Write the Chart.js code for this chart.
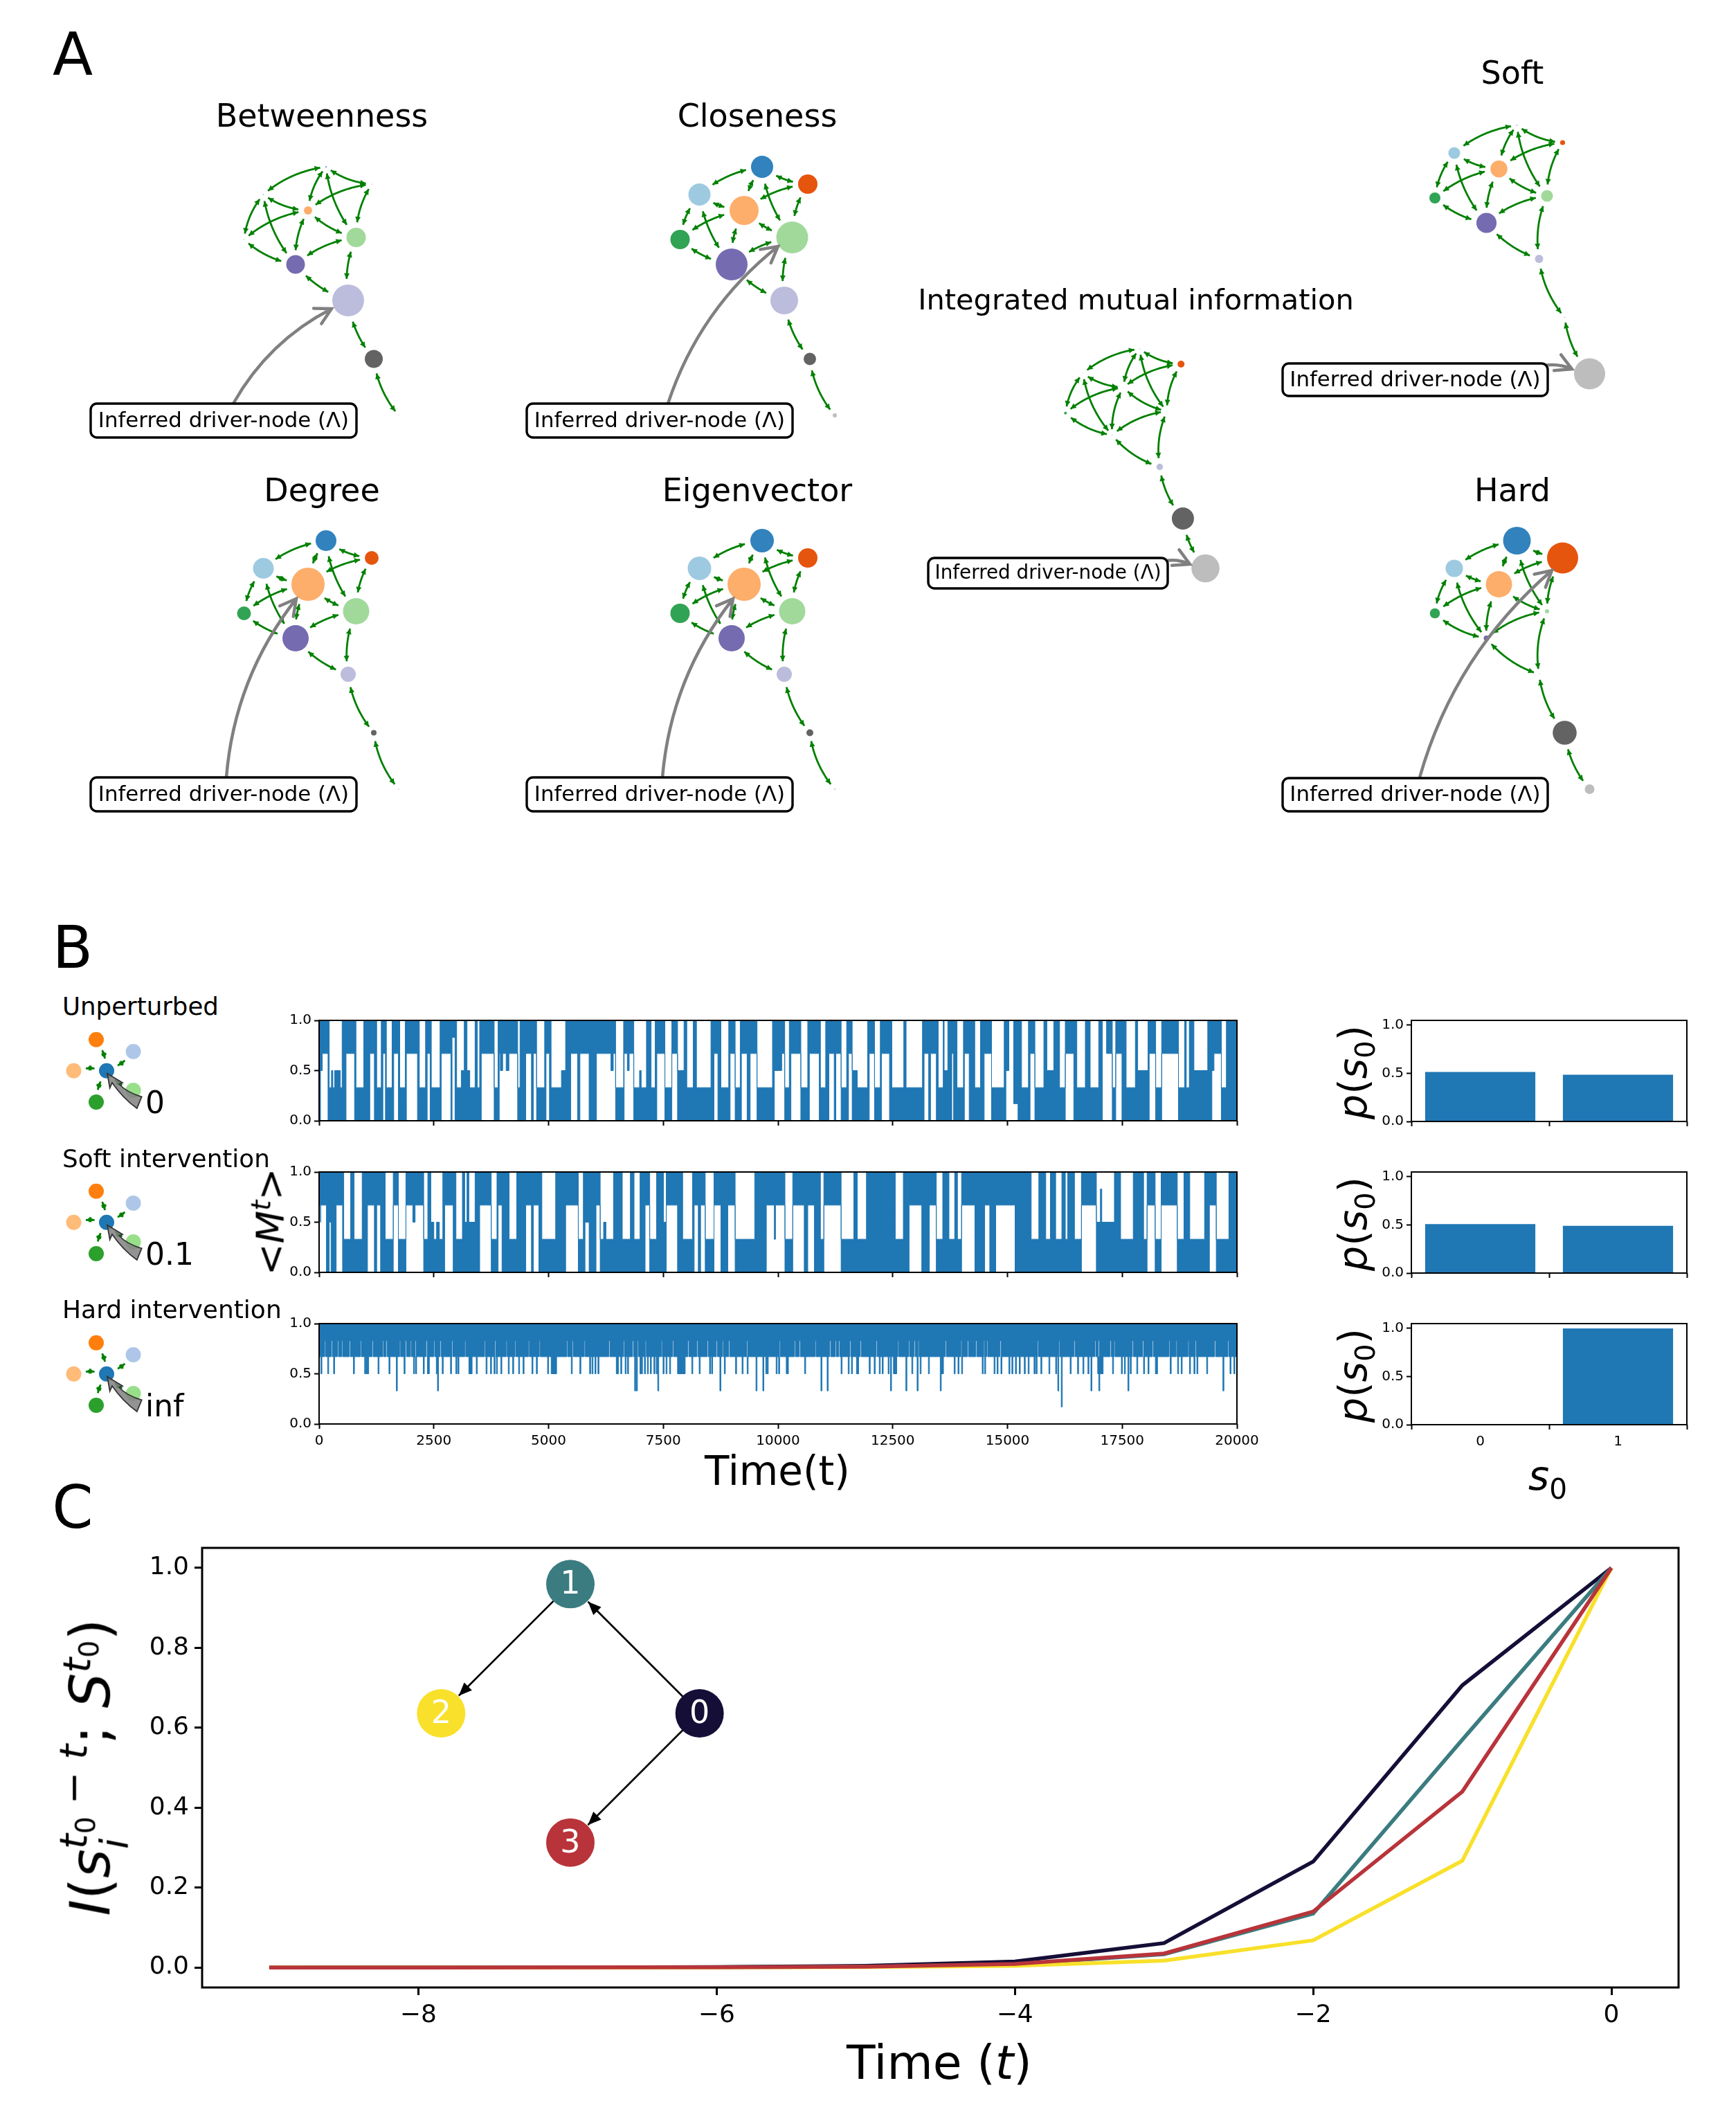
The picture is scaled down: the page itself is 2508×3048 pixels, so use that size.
<!DOCTYPE html>
<html>
<head>
<meta charset="utf-8">
<title>Driver node figure</title>
<script src="https://cdn.jsdelivr.net/npm/chart.js@4"></script>
<style>
    html, body { margin: 0; padding: 0; background: #fff; }
    #page { position: relative; width: 2508px; height: 3048px; overflow: hidden; font-family: "DejaVu Sans"; color: #000; }
    #page canvas { position: absolute; }
    .txt { position: absolute; white-space: nowrap; line-height: 1; }
    .txt sub, .txt sup { font-size: 70%; line-height: 0; }
    .stack { display: inline-flex; flex-direction: column; vertical-align: middle; font-size: 70%; line-height: 1.05; }
</style>
</head>
<body>
<div id="page"></div>
<script>
// panel A : network
var nodeColors = ["#3182bd", "#e6550d", "#9ecae1", "#fdae6b", "#a1d99b", "#31a354", "#756bb1", "#bcbddc", "#636363", "#bdbdbd"];
var layoutX = [471, 537, 380.5, 445, 514.5, 352.5, 427, 503, 540, 576];
var layoutY = [241, 266, 281, 304, 343, 346, 382, 434, 518.5, 600];
var edgeFrom = [0, 0, 0, 0, 1, 1, 2, 2, 2, 3, 3, 3, 4, 4, 5, 6, 7, 8];
var edgeTo = [1, 2, 3, 4, 3, 4, 3, 5, 6, 5, 6, 4, 6, 7, 6, 7, 8, 9];

var panelNames = ["Betweenness", "Closeness", "Degree", "Eigenvector", "Soft", "Hard", "Integrated mutual information"];
var panelSizes = [
    [1, 0.5, 1, 6, 14, 0.5, 13.5, 23, 13, 0.5],
    [16, 14, 16, 21, 23, 14, 23, 20, 9, 3],
    [15, 10, 15, 24, 19, 10, 19, 11, 4, 0.8],
    [17, 14, 17, 24, 19, 14, 19, 11, 5, 1],
    [0.7, 3.6, 8.6, 12.3, 8.6, 8, 14.6, 6, 0.5, 22.5],
    [20, 22.5, 12.6, 19, 3, 7.3, 4, 0.7, 17.3, 7],
    [0.5, 5, 0.5, 0.5, 0.5, 2, 0.5, 4.6, 16, 20.3]
];

// panel B : envelope of the traces, one [low, high] band per run
var F = [0, 1], B = [0, 0.33], T = [0.67, 1], n = [0, 0.5], u = [0, 0.83];
var m = [0.5, 1], h = [0.83, 1], s = [0.33, 1], k = [0.17, 1], W = [1, 1];

var unperturbedRuns = [
    [0, F], [30, m], [70, T], [195, F], [220, B], [270, n], [300, B], [340, n], [462, B], [502, F], [587, T], [773, F], [803, B], [974, F], [1105, T], [1205, F], [1255, B], [1355, F], [1390, T], [1446, F], [1466, B], [1591, F], [1626, T], [1727, F], [1757, B], [1877, F], [1902, T], [2144, F], [2184, B], [2320, F], [2355, T], [2420, F], [2445, B], [2636, F], [2661, T], [2872, F], [2897, h], [2962, F], [2997, B], [3098, n], [3163, F], [3223, n], [3283, B], [3399, F], [3449, B], [3499, F], [3534, T], [3815, B], [3900, F], [3925, T], [3950, m], [4000, T], [4076, m], [4136, T], [4327, B], [4378, F], [4503, T], [4628, F], [4668, T], [4739, B], [4915, F], [4945, T], [5020, F], [5055, B], [5281, n], [5372, F], [5482, T], [5633, F], [5683, T], [5884, F], [6044, T], [6360, m], [6410, T], [6461, B], [6636, F],
    [6647, T], [6717, m], [6757, T], [6857, B], [6983, n], [7018, B], [7134, F], [7234, B], [7324, F], [7359, T], [7535, B], [7686, T], [7811, n], [7952, F], [8012, B], [8153, F], [8223, B], [8539, F], [8604, T], [8690, F], [8755, B], [8926, F], [8956, T], [9066, B], [9177, F], [9202, T], [9327, F], [9393, T], [9543, B], [9880, F], [9920, m], [10080, T], [10146, B], [10246, F], [10281, T], [10497, B], [10648, F], [10683, T], [10899, F], [10924, B], [11039, F], [11109, T], [11225, F], [11260, T], [11375, B], [11496, F], [11536, T], [11616, n], [11727, B], [11953, F], [11988, T], [12103, B], [12229, F], [12254, T], [12430, F], [12480, B], [12741, F], [12791, B], [13148, F], [13183, T], [13283, F],
    [13323, T], [13450, F], [13490, B], [13600, F], [13620, n], [13700, F], [13786, T], [13826, F], [13900, B], [14041, F], [14061, T], [14166, F], [14287, B], [14412, F], [14492, T], [14653, B], [14929, F], [14965, m], [15030, W], [15135, k], [15230, F], [15306, B], [15457, F], [15492, T], [15597, B], [15793, F], [15858, n], [16009, F], [16135, B], [16260, T], [16446, F], [16511, B], [16697, F], [16802, B], [16988, F], [17068, W], [17159, T], [17284, B], [17359, T], [17495, F], [17586, B], [17787, F], [17837, n], [18063, F], [18088, T], [18229, B], [18360, T], [18726, B], [18861, F], [18896, B], [18962, F], [19063, n], [19364, F], [19454, m], [19500, T], [19660, B], [19770, F]
];

var softRuns = [
    [0, T], [30, m], [35, T], [160, F], [221, m], [261, F], [372, T], [512, F], [537, B], [688, F], [763, B], [939, F], [1054, T], [1205, F], [1255, T], [1340, F], [1441, B], [1616, T], [1727, B], [1892, T], [2042, m], [2092, T], [2279, B], [2369, F], [2435, n], [2500, B], [2560, n], [2620, B], [2696, F], [2736, T], [2922, F], [2982, B], [3123, F], [3173, n], [3223, F], [3263, n], [3399, F], [3499, T], [3751, B], [3876, F], [3901, T], [3986, F], [4141, B], [4307, F], [4503, T], [4628, F], [4668, T], [4789, F], [4854, B], [5155, F], [5372, T], [5648, B], [5758, F], [5794, m], [5884, F], [6034, T], [6125, B], [6200, n], [6250, B], [6415, F], [6606, B],
    [6783, F], [6863, B], [6994, F], [7104, T], [7204, B], [7354, F], [7505, n], [7565, T], [7811, F], [7922, B], [8138, F], [8173, T], [8263, F], [8313, T], [8414, B], [8605, T], [8756, F], [8906, T], [9066, B], [9493, F], [9745, T], [9920, s], [9945, T], [10151, B], [10321, T], [10572, F], [10648, T], [10793, F], [10924, B], [10999, T], [11375, B], [11652, F], [11727, B], [11927, F], [12555, B], [12731, F], [12856, T], [13133, F],
    [13298, T], [13449, B], [13590, F], [13725, B], [13850, F], [13910, B], [14000, T], [14291, F], [14503, T], [14614, F], [14744, T], [15166, F], [15517, B], [15683, F], [15834, B], [15935, F], [16050, B], [16185, F], [16260, B], [16310, F], [16460, B], [16612, T], [16937, n], [17025, u], [17055, n], [17330, F], [17465, B], [17741, F], [17966, B], [18042, T], [18218, B], [18349, T], [18700, B], [18846, F], [18972, B], [19295, F], [19400, T], [19550, B], [19825, F]
];

// hard intervention stays in the top band, these are the dips below it
var hardDips = [
    [39, 0.5], [187, 0.5], [316, 0.5], [748, 0.5], [993, 0.5], [1026, 0.5], [1058, 0.5], [1284, 0.5], [1522, 0.5], [1683, 0.33], [1851, 0.5], [2058, 0.5], [2103, 0.5], [2270, 0.5], [2361, 0.5], [2380, 0.5], [2554, 0.5], [2580, 0.33], [2683, 0.5], [2864, 0.5], [2980, 0.5], [3025, 0.5], [3264, 0.5], [3288, 0.5], [3312, 0.5], [3425, 0.5], [3638, 0.5], [3735, 0.5], [3812, 0.5], [3864, 0.5], [3960, 0.5], [4122, 0.5], [4218, 0.5], [4347, 0.5], [4444, 0.5], [4638, 0.5], [4734, 0.5], [4979, 0.5], [5057, 0.5], [5081, 0.5], [5105, 0.5], [5129, 0.5], [5153, 0.5], [5495, 0.5], [5682, 0.5], [5895, 0.5], [5947, 0.5], [6011, 0.5], [6076, 0.5], [6476, 0.5], [6500, 0.5], [6573, 0.5], [6669, 0.5], [6721, 0.5], [6876, 0.33], [6914, 0.33], [6992, 0.5], [7024, 0.5], [7089, 0.5], [7153, 0.5], [7218, 0.5], [7295, 0.5], [7347, 0.5], [7379, 0.33], [7495, 0.5], [7560, 0.5], [7637, 0.5], [7811, 0.5], [7835, 0.5], [7859, 0.5], [7883, 0.5], [7907, 0.5], [7931, 0.5], [7955, 0.5], [8121, 0.5], [8282, 0.5], [8508, 0.5], [8553, 0.5], [8733, 0.33], [8830, 0.5], [9075, 0.5], [9217, 0.5], [9327, 0.5], [9520, 0.33], [9669, 0.33], [9733, 0.5], [9765, 0.5], [9959, 0.5],
    [10013, 0.5], [10180, 0.5], [10204, 0.5], [10580, 0.5], [10935, 0.33], [11071, 0.33], [11374, 0.5], [11529, 0.5], [11600, 0.5], [11710, 0.5], [11734, 0.5], [11987, 0.5], [12096, 0.5], [12206, 0.5], [12270, 0.5], [12400, 0.5], [12451, 0.33], [12516, 0.5], [12540, 0.5], [12564, 0.5], [12786, 0.33], [12915, 0.5], [13031, 0.33], [13096, 0.5], [13277, 0.5], [13535, 0.33], [13559, 0.5], [13583, 0.5], [13838, 0.5], [13922, 0.5], [14000, 0.5], [14450, 0.5], [14502, 0.5], [14708, 0.5], [14773, 0.5], [14857, 0.5], [15031, 0.5], [15096, 0.5], [15173, 0.5], [15257, 0.5], [15366, 0.5], [15450, 0.5], [15579, 0.5], [15624, 0.5], [15727, 0.5], [15902, 0.5], [16050, 0.5], [16096, 0.33], [16172, 0.17], [16366, 0.5], [16527, 0.5], [16643, 0.5], [16753, 0.5], [16818, 0.33], [16966, 0.5], [16990, 0.33], [17014, 0.5], [17038, 0.5], [17062, 0.5], [17289, 0.5], [17482, 0.5], [17547, 0.5], [17624, 0.33], [17675, 0.5], [17817, 0.5], [17965, 0.5], [18062, 0.5], [18223, 0.5], [18247, 0.5], [18546, 0.5], [18707, 0.5], [18785, 0.5], [18966, 0.5], [19063, 0.5], [19127, 0.5], [19340, 0.5], [19694, 0.33], [19849, 0.5], [19933, 0.5]
];
var hardSlitTime = [123, 271, 400, 490, 658, 897, 1155, 1380, 1458, 1754, 1883, 1993, 2090, 2335, 2496, 2638, 2896, 3173, 3606, 3831, 4076, 4270, 4560, 4799, 5392, 5521, 5779, 6315, 6637, 6830, 6940, 7108, 7456, 7701, 8037, 8230, 8456, 8656, 8785, 8927, 9314,
    10032, 10355, 10464, 10806, 11128, 11245, 11322, 11567, 11793, 12141, 12612, 12851, 12967, 13051, 13644, 13986, 14128, 14309, 14483, 14547, 14837, 15657, 16115, 16450, 16901, 16979, 17237, 17321, 17721, 17947, 18159, 18514, 18675, 18933, 19095, 19514, 19804];

var timeTicks = [0, 2500, 5000, 7500, 10000, 12500, 15000, 17500, 20000];
var unitTicks = [0, 0.5, 1];

var stateLabels = ["0", "1"];
var probUnperturbed = [0.514, 0.486];
var probSoft = [0.509, 0.491];
var probHard = [0, 1];

// panel C
var lagTime = [-9, -8, -7, -6, -5, -4, -3, -2, -1, 0];
var miNode0 = [0, 0.0001, 0.0003, 0.001, 0.004, 0.015, 0.061, 0.265, 0.706, 1];
var miNode1 = [0, 0, 0.0001, 0.0005, 0.002, 0.008, 0.033, 0.135, 0.57, 1];
var miNode2 = [0, 0, 0, 0.0001, 0.001, 0.004, 0.017, 0.068, 0.267, 1];
var miNode3 = [0, 0, 0.0001, 0.0005, 0.002, 0.009, 0.035, 0.14, 0.44, 1];
var lagTicks = [-8, -6, -4, -2, 0];
var miTicks = [0, 0.2, 0.4, 0.6, 0.8, 1];
var miColors = ["#150e37", "#3b7c80", "#f9e02a", "#b8343a"];

var insetLabels = ["0", "1", "2", "3"];
var insetX = [2, 1, 0, 1];
var insetY = [1, 2, 1, 0];
var insetFrom = [1, 0, 0];
var insetTo = [2, 1, 3];

// placement of panel A on the page
var panelX = [471, 1101, 471, 1101, 2191.5, 2191.5, 1646.5];
var panelY = [241, 241, 781, 781, 181, 781, 504];
var panelScaleX = [1, 1, 1, 1, 1, 1, 0.905];
var panelScaleY = [1, 1, 1, 1, 1, 1, 0.883];
var titleX = [465, 1094, 465, 1094, 2185, 2185, 1641];
var titleY = [167, 167, 708, 708, 105, 708, 433];
var titleSize = [46, 46, 46, 46, 46, 46, 41.5];
var boxes = [[131, 583, 515, 632], [761, 583, 1145, 632], [131, 1123, 515, 1172], [761, 1123, 1145, 1172], [1853, 525, 2236, 572], [1853, 1124, 2236, 1172], [1341, 806, 1687, 850]];
var arrowStart = [[337, 583], [965, 583], [327, 1123], [957, 1123], [2230, 528], [2051, 1123], [1684, 810]];
var arrowEnd = [[479, 446], [1124, 356], [428, 865], [1059, 865], [2271, 533], [2242, 824], [1719, 815]];

var blue = "#1f77b4";
var page = document.getElementById("page");

function addText(html, x, y, size, opts) {
    opts = opts || {};
    var el = document.createElement("div");
    el.className = "txt";
    el.innerHTML = html;
    el.style.left = x + "px";
    el.style.top = y + "px";
    el.style.fontSize = size + "px";
    var shift = opts.left ? "translate(0,-50%)" : "translate(-50%,-50%)";
    el.style.transform = shift + (opts.rotate ? " rotate(-90deg)" : "");
    page.appendChild(el);
}

function addCanvas(x, y, w, h) {
    var c = document.createElement("canvas");
    c.width = w;
    c.height = h;
    c.style.left = x + "px";
    c.style.top = y + "px";
    c.style.width = w + "px";
    c.style.height = h + "px";
    page.appendChild(c);
    return c;
}

Chart.defaults.font.family = "DejaVu Sans";
Chart.defaults.color = "#000";
Chart.defaults.animation = false;
Chart.defaults.responsive = false;
Chart.defaults.events = [];
Chart.defaults.plugins.legend.display = false;
Chart.defaults.plugins.tooltip.enabled = false;

// green double headed curved edge, same as arc3 with shrink
function drawEdge(ctx, ax, ay, ar, bx, by, br, rad, gap) {
    var cx = (ax + bx) / 2 - rad * (by - ay);
    var cy = (ay + by) / 2 + rad * (bx - ax);
    var pts = [];
    for (var i = 0; i <= 60; i++) {
        var t = i / 60, v = 1 - t;
        var px = v * v * ax + 2 * v * t * cx + t * t * bx;
        var py = v * v * ay + 2 * v * t * cy + t * t * by;
        if (Math.hypot(px - ax, py - ay) > ar + gap && Math.hypot(px - bx, py - by) > br + gap) {
            pts.push([px, py]);
        }
    }
    if (pts.length < 2) return;
    ctx.strokeStyle = "#008000";
    ctx.fillStyle = "#008000";
    ctx.lineWidth = 2.8;
    ctx.beginPath();
    pts.forEach(function (p, i) { if (i) ctx.lineTo(p[0], p[1]); else ctx.moveTo(p[0], p[1]); });
    ctx.stroke();
    drawHead(ctx, pts[0], pts[1], 8, 4);
    drawHead(ctx, pts[pts.length - 1], pts[pts.length - 2], 8, 4);
}

function drawHead(ctx, tip, from, len, half) {
    var a = Math.atan2(tip[1] - from[1], tip[0] - from[0]);
    ctx.beginPath();
    ctx.moveTo(tip[0], tip[1]);
    ctx.lineTo(tip[0] - len * Math.cos(a) - half * Math.sin(a), tip[1] - len * Math.sin(a) + half * Math.cos(a));
    ctx.lineTo(tip[0] - len * Math.cos(a) + half * Math.sin(a), tip[1] - len * Math.sin(a) - half * Math.cos(a));
    ctx.closePath();
    ctx.fill();
}

var networkPlugin = {
    id: "network",
    beforeDatasetsDraw: function (chart) {
        var ctx = chart.ctx;
        ctx.save();
        ctx.lineCap = "butt";
        chart.data.datasets.forEach(function (ds) {
            edgeFrom.forEach(function (a, i) {
                var pa = ds.data[a], pb = ds.data[edgeTo[i]];
                var x = chart.scales.x, y = chart.scales.y;
                drawEdge(ctx, x.getPixelForValue(pa.x), y.getPixelForValue(pa.y), pa.r,
                    x.getPixelForValue(pb.x), y.getPixelForValue(pb.y), pb.r, 0.15, 7);
            });
        });
        ctx.restore();
    },
    afterDatasetsDraw: function (chart) {
        var ctx = chart.ctx;
        ctx.save();
        panelNames.forEach(function (name, i) {
            var a0 = arrowStart[i], e = arrowEnd[i];
            var cx = (a0[0] + e[0]) / 2 + 0.15 * (e[1] - a0[1]);
            var cy = (a0[1] + e[1]) / 2 - 0.15 * (e[0] - a0[0]);
            ctx.strokeStyle = "#808080";
            ctx.lineWidth = 4.5;
            ctx.lineCap = "round";
            ctx.beginPath();
            ctx.moveTo(a0[0], a0[1]);
            ctx.quadraticCurveTo(cx, cy, e[0], e[1]);
            var a = Math.atan2(e[1] - cy, e[0] - cx);
            ctx.moveTo(e[0] - 26 * Math.cos(a - 0.5), e[1] - 26 * Math.sin(a - 0.5));
            ctx.lineTo(e[0], e[1]);
            ctx.lineTo(e[0] - 26 * Math.cos(a + 0.5), e[1] - 26 * Math.sin(a + 0.5));
            ctx.stroke();

            var b = boxes[i];
            ctx.beginPath();
            ctx.roundRect(b[0], b[1], b[2] - b[0], b[3] - b[1], 9);
            ctx.fillStyle = "#fff";
            ctx.fill();
            ctx.strokeStyle = "#000";
            ctx.lineWidth = 3.4;
            ctx.stroke();
            ctx.fillStyle = "#000";
            ctx.textAlign = "center";
            ctx.textBaseline = "middle";
            ctx.font = (i === 6 ? 27.8 : 30.8) + 'px "DejaVu Sans"';
            ctx.fillText("Inferred driver-node (\u039b)", (b[0] + b[2]) / 2, (b[1] + b[3]) / 2 + 1);
        });
        ctx.restore();
    }
};

new Chart(addCanvas(0, 0, 2508, 1300), {
    type: "bubble",
    data: {
        datasets: panelNames.map(function (name, p) {
            return {
                label: name,
                clip: false,
                borderWidth: 0,
                backgroundColor: nodeColors,
                data: layoutX.map(function (x, i) {
                    return {
                        x: panelX[p] + panelScaleX[p] * (x - layoutX[0]),
                        y: panelY[p] + panelScaleY[p] * (layoutY[i] - layoutY[0]),
                        r: panelSizes[p][i]
                    };
                })
            };
        })
    },
    options: {
        layout: { padding: 0, autoPadding: false },
        scales: {
            x: { type: "linear", display: false, min: 0, max: 2508 },
            y: { type: "linear", display: false, min: 0, max: 1300, reverse: true }
        }
    },
    plugins: [networkPlugin]
});

// small star graphs left of the traces
var starColors = ["#1f77b4", "#ff7f0e", "#aec7e8", "#ffbb78", "#98df8a", "#2ca02c"];
var starX = [154, 139, 192.6, 106.5, 192.6, 139];
var starY = [1546.7, 1501.7, 1519, 1546.7, 1575, 1592];
var starShift = [0, 219, 438];

var starPlugin = {
    id: "star",
    beforeDatasetsDraw: function (chart) {
        var ctx = chart.ctx, x = chart.scales.x, y = chart.scales.y;
        ctx.save();
        chart.data.datasets.forEach(function (ds) {
            var c = ds.data[0];
            ds.data.slice(1).forEach(function (p) {
                drawEdge(ctx, x.getPixelForValue(c.x), y.getPixelForValue(c.y), c.r,
                    x.getPixelForValue(p.x), y.getPixelForValue(p.y), p.r, 0.15, 6.5);
            });
        });
        ctx.restore();
    },
    afterDatasetsDraw: function (chart) {
        var ctx = chart.ctx, x = chart.scales.x, y = chart.scales.y;
        ctx.save();
        starShift.forEach(function (d) {
            function X(v) { return x.getPixelForValue(v); }
            function Y(v) { return y.getPixelForValue(v + d); }
            ctx.beginPath();
            ctx.moveTo(X(155), Y(1550.7));
            ctx.lineTo(X(158.7), Y(1571.7));
            ctx.lineTo(X(162), Y(1564));
            ctx.quadraticCurveTo(X(177.7), Y(1586.7), X(197.8), Y(1601));
            ctx.lineTo(X(204.7), Y(1584.3));
            ctx.quadraticCurveTo(X(183), Y(1578), X(172), Y(1566));
            ctx.lineTo(X(177), Y(1564));
            ctx.closePath();
            ctx.fillStyle = "rgba(128,128,128,0.85)";
            ctx.fill();
            ctx.strokeStyle = "#333";
            ctx.lineWidth = 1.8;
            ctx.stroke();
        });
        ctx.restore();
    }
};

new Chart(addCanvas(60, 1480, 200, 640), {
    type: "bubble",
    data: {
        datasets: starShift.map(function (d) {
            return {
                borderWidth: 0,
                clip: false,
                backgroundColor: starColors,
                data: starX.map(function (x, i) { return { x: x, y: starY[i] + d, r: 11 }; })
            };
        })
    },
    options: {
        layout: { padding: 0, autoPadding: false },
        scales: {
            x: { type: "linear", display: false, min: 60, max: 260 },
            y: { type: "linear", display: false, min: 1480, max: 2120, reverse: true }
        }
    },
    plugins: [starPlugin]
});

var framePlugin = {
    id: "frame",
    afterDraw: function (chart) {
        var a = chart.chartArea, ctx = chart.ctx;
        ctx.save();
        ctx.strokeStyle = "#000";
        ctx.lineWidth = chart.options.frameWidth;
        ctx.strokeRect(a.left, a.top, a.right - a.left, a.bottom - a.top);
        ctx.restore();
    }
};

// shared axes options, plot area lands exactly on box
function axisBase(ticks, fontSize, showLabels, tickLen, tickW, pad) {
    return {
        grid: { drawOnChartArea: false, drawTicks: true, tickLength: tickLen, tickWidth: tickW, tickColor: "#000" },
        border: { display: false },
        afterBuildTicks: function (axis) {
            if (ticks) axis.ticks = ticks.map(function (v) { return { value: v }; });
        },
        ticks: {
            autoSkip: false,
            maxRotation: 0,
            padding: pad,
            color: "#000",
            font: { size: fontSize },
            callback: function (v) { return showLabels ? v : ""; }
        }
    };
}

function placeChart(box, margin, config) {
    config.options = config.options || {};
    config.options.layout = { padding: { top: margin.top, right: margin.right, left: 0, bottom: 0 } };
    config.options.scales.x.afterFit = function (a) { a.height = margin.bottom; };
    config.options.scales.y.afterFit = function (a) { a.width = margin.left; };
    config.plugins = (config.plugins || []).concat([framePlugin]);
    return new Chart(addCanvas(box.x - margin.left, box.y - margin.top, box.w + margin.left + margin.right, box.h + margin.top + margin.bottom), config);
}

function oneDecimal(v) { return Number(v).toFixed(1); }

// stepped band between two lines, "before" holds a value until the next point
function bandChart(rowY, highPts, lowPts, showLabels) {
    var xAxis = axisBase(timeTicks, 20, true, 7, 2, 6);
    xAxis.type = "linear";
    xAxis.min = 0;
    xAxis.max = 20000;
    xAxis.ticks.callback = function (v) { return showLabels ? v : ""; };
    var yAxis = axisBase(unitTicks, 20, true, 7, 2, 4);
    yAxis.min = 0;
    yAxis.max = 1;
    yAxis.ticks.callback = oneDecimal;
    placeChart({ x: 460.5, y: rowY, w: 1326.5, h: 145 }, { left: 60, right: 60, top: 20, bottom: 50 }, {
        type: "line",
        data: {
            datasets: [
                { data: highPts, stepped: "before", fill: "+1", backgroundColor: blue, borderColor: blue, borderWidth: 1, pointRadius: 0 },
                { data: lowPts, stepped: "before", fill: false, borderColor: blue, borderWidth: 1, pointRadius: 0 }
            ]
        },
        options: { frameWidth: 2, scales: { x: xAxis, y: yAxis } }
    });
}

function stepsFromRuns(runs) {
    var high = [], low = [];
    runs.forEach(function (r) {
        low.push({ x: r[0], y: r[1][0] });
        high.push({ x: r[0], y: r[1][1] });
    });
    var last = runs[runs.length - 1][1];
    low.push({ x: 20000, y: last[0] });
    high.push({ x: 20000, y: last[1] });
    return [high, low];
}

function stepsFromDips() {
    var events = [];
    hardDips.forEach(function (d) { events.push([d[0], d[1], 22]); });
    hardSlitTime.forEach(function (t) { events.push([t, 0.83, 22]); });
    events.sort(function (a, b) { return a[0] - b[0]; });
    var high = [{ x: 0, y: 1 }], low = [{ x: 0, y: 0.67 }];
    events.forEach(function (e) {
        low.push({ x: e[0], y: e[1] });
        high.push({ x: e[0], y: 1 });
        low.push({ x: e[0] + e[2], y: 0.67 });
        high.push({ x: e[0] + e[2], y: 1 });
    });
    low.push({ x: 20000, y: 0.67 });
    high.push({ x: 20000, y: 1 });
    return [high, low];
}

var row1 = stepsFromRuns(unperturbedRuns);
var row2 = stepsFromRuns(softRuns);
var row3 = stepsFromDips();
bandChart(1474, row1[0], row1[1], false);
bandChart(1693, row2[0], row2[1], false);
bandChart(1912, row3[0], row3[1], true);

function probChart(rowY, values, showLabels) {
    var xAxis = axisBase(null, 20, showLabels, 7, 2, 6);
    xAxis.type = "category";
    xAxis.ticks.callback = function (v, i) { return showLabels ? stateLabels[i] : ""; };
    var yAxis = axisBase(unitTicks, 20, true, 7, 2, 4);
    yAxis.min = 0;
    yAxis.max = 1.05;
    yAxis.ticks.callback = oneDecimal;
    placeChart({ x: 2039, y: rowY, w: 398, h: 146 }, { left: 60, right: 40, top: 20, bottom: 50 }, {
        type: "bar",
        data: {
            labels: stateLabels,
            datasets: [{ data: values, backgroundColor: blue, barPercentage: 1, categoryPercentage: 0.8 }]
        },
        options: { frameWidth: 2, scales: { x: xAxis, y: yAxis } }
    });
}

probChart(1474, probUnperturbed, false);
probChart(1693, probSoft, false);
probChart(1912, probHard, true);

// panel C main axes
var lagAxis = axisBase(lagTicks, 36, true, 11, 3, 8);
lagAxis.type = "linear";
lagAxis.min = -9.45;
lagAxis.max = 0.45;
lagAxis.ticks.callback = function (v) { return v < 0 ? "\u2212" + Math.abs(v) : String(v); };
var miAxis = axisBase(miTicks, 36, true, 11, 3, 8);
miAxis.min = -0.05;
miAxis.max = 1.05;
miAxis.ticks.callback = oneDecimal;

function miSeries(values, color) {
    return {
        data: lagTime.map(function (t, i) { return { x: t, y: values[i] }; }),
        borderColor: color,
        borderWidth: 5.5,
        pointRadius: 0,
        tension: 0,
        fill: false,
        borderJoinStyle: "miter"
    };
}

placeChart({ x: 291.5, y: 2236, w: 2133.5, h: 635 }, { left: 110, right: 60, top: 40, bottom: 80 }, {
    type: "line",
    data: {
        datasets: [miSeries(miNode3, miColors[3]), miSeries(miNode2, miColors[2]), miSeries(miNode1, miColors[1]), miSeries(miNode0, miColors[0])]
    },
    options: { frameWidth: 3, scales: { x: lagAxis, y: miAxis } }
});

// panel C inset graph
var insetPlugin = {
    id: "inset",
    beforeDatasetsDraw: function (chart) {
        var ctx = chart.ctx, x = chart.scales.x, y = chart.scales.y;
        ctx.save();
        ctx.strokeStyle = "#000";
        ctx.fillStyle = "#000";
        ctx.lineWidth = 2.6;
        insetFrom.forEach(function (a, i) {
            var b = insetTo[i];
            var ax = x.getPixelForValue(insetX[a]), ay = y.getPixelForValue(insetY[a]);
            var bx = x.getPixelForValue(insetX[b]), by = y.getPixelForValue(insetY[b]);
            var d = Math.hypot(bx - ax, by - ay);
            var tip = [bx - (bx - ax) * 36 / d, by - (by - ay) * 36 / d];
            ctx.beginPath();
            ctx.moveTo(ax, ay);
            ctx.lineTo(tip[0], tip[1]);
            ctx.stroke();
            drawHead(ctx, tip, [ax, ay], 19, 8);
        });
        ctx.restore();
    },
    afterDatasetsDraw: function (chart) {
        var ctx = chart.ctx, x = chart.scales.x, y = chart.scales.y;
        ctx.save();
        ctx.fillStyle = "#fff";
        ctx.textAlign = "center";
        ctx.textBaseline = "middle";
        ctx.font = '46px "DejaVu Sans"';
        insetLabels.forEach(function (t, i) {
            ctx.fillText(t, x.getPixelForValue(insetX[i]), y.getPixelForValue(insetY[i]) + 2);
        });
        ctx.restore();
    }
};

new Chart(addCanvas(544, 2194.6, 560, 560), {
    type: "bubble",
    data: {
        datasets: [{
            borderWidth: 0,
            backgroundColor: miColors,
            data: insetX.map(function (x, i) { return { x: x, y: insetY[i], r: 35 }; })
        }]
    },
    options: {
        layout: { padding: 0, autoPadding: false },
        scales: {
            x: { type: "linear", display: false, min: -0.5, max: 2.5 },
            y: { type: "linear", display: false, min: -0.5, max: 2.5 }
        }
    },
    plugins: [insetPlugin]
});

// text
addText("A", 105, 78, 85);
addText("B", 105, 1368, 85);
addText("C", 105, 2177, 85);
panelNames.forEach(function (name, i) { addText(name, titleX[i], titleY[i], titleSize[i]); });

addText("Unperturbed", 90, 1454, 35.6, { left: true });
addText("Soft intervention", 90, 1674, 35.8, { left: true });
addText("Hard intervention", 90, 1892, 36, { left: true });
addText("0", 210, 1593, 44, { left: true });
addText("0.1", 210, 1812, 44, { left: true });
addText("inf", 210, 2031, 44, { left: true });

addText("&lt;<i>M</i><sup><i>t</i></sup>&gt;", 391, 1765, 55, { rotate: true });
addText("Time(t)", 1123, 2125, 58);
addText("<i>p</i>(<i>s</i><sub>0</sub>)", 1954, 1549, 57, { rotate: true });
addText("<i>p</i>(<i>s</i><sub>0</sub>)", 1954, 1768, 57, { rotate: true });
addText("<i>p</i>(<i>s</i><sub>0</sub>)", 1954, 1987, 57, { rotate: true });
addText("<i>s</i><sub>0</sub>", 2236, 2132, 58);
addText("Time (<i>t</i>)", 1357, 2980, 68);
addText('<i>I</i>(<i>s</i><span class="stack"><span><i>t</i><sub>0</sub> \u2212 <i>t</i></span><span><i>i</i></span></span>; <i>S</i><sup><i>t</i><sub>0</sub></sup>)', 136, 2553, 80, { rotate: true });
</script>
</body>
</html>
